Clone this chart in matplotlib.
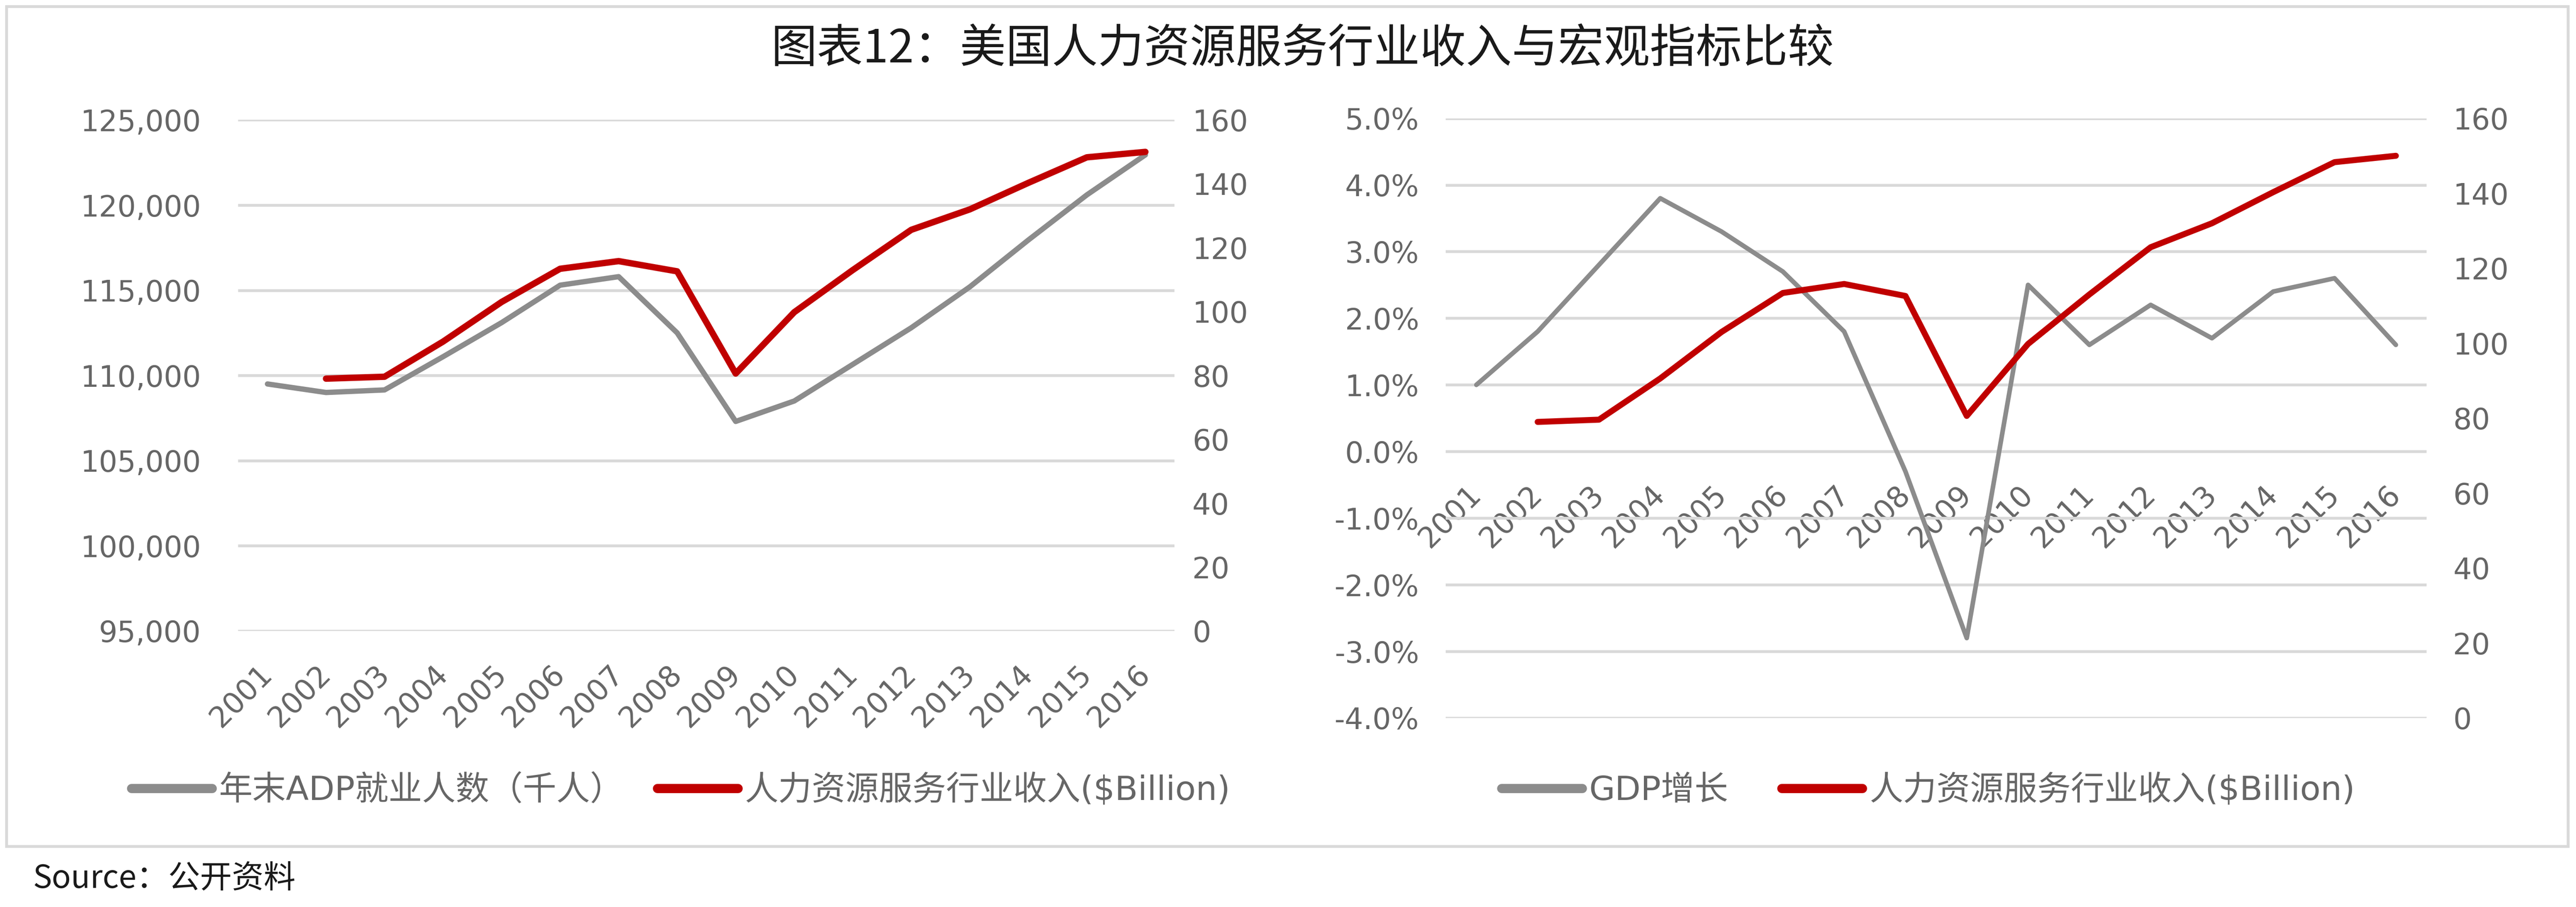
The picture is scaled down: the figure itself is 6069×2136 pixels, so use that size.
import matplotlib
matplotlib.use('Agg')
import matplotlib.pyplot as plt
from matplotlib.patches import Rectangle
from matplotlib.ticker import FuncFormatter, MultipleLocator
import numpy as np

plt.rcParams['font.family'] = ['DejaVu Sans', 'Noto Sans CJK SC']

# Données
annees = [str(a) for a in range(2001, 2017)]
emploi_adp = [109500, 109000, 109150, 111100, 113100, 115300, 115800, 112500,
              107300, 108500, 110650, 112800, 115200, 117950, 120600, 122950]
revenu_rh = [np.nan, 79.0, 79.6, 90.6, 103.0, 113.4, 115.8, 112.6,
             80.6, 99.8, 113.0, 125.6, 132.0, 140.3, 148.3, 150.0]
croissance_pib = [1.0, 1.8, 2.8, 3.8, 3.3, 2.7, 1.8, -0.3,
                  -2.8, 2.5, 1.6, 2.2, 1.7, 2.4, 2.6, 1.6]

titre = '图表12：美国人力资源服务行业收入与宏观指标比较'
label_emploi = '年末ADP就业人数（千人）'
label_revenu = '人力资源服务行业收入($Billion)'
label_pib = 'GDP增长'
source = 'Source：公开资料'

ROUGE = '#c00000'
GRIS = '#8c8c8c'
GRILLE = '#d9d9d9'
TEXTE = '#666666'

W, H = 1568.0, 552.0


def fx(px):
    return px / W


def fy(py):
    return 1 - py / H


def boite(x0, y0, x1, y1):
    return [fx(x0), fy(y1), (x1 - x0) / W, (y1 - y0) / H]


def style_axe(ax):
    for s in ax.spines.values():
        s.set_visible(False)
    ax.tick_params(length=0, labelsize=16.5, labelcolor=TEXTE)


fig = plt.figure(figsize=(6069 / 300, 2136 / 300), dpi=300)
x = np.arange(len(annees))

# Cadre
fig.patches.append(Rectangle((fx(4), fy(515)), fx(1563) - fx(4), fy(4) - fy(515),
                             transform=fig.transFigure, fill=False,
                             edgecolor=GRILLE, linewidth=1.6))

fig.text(fx(793), fy(30), titre, ha='center', va='center', fontsize=26,
         color='#1a1a1a', family=['Noto Sans CJK SC', 'DejaVu Sans'])
fig.text(fx(20), fy(535), source, ha='left', va='center', fontsize=18,
         color='#1a1a1a', family=['Noto Sans CJK SC', 'DejaVu Sans'])

# Graphique de gauche
ax1 = fig.add_axes(boite(145, 73, 715, 384))
style_axe(ax1)
l1, = ax1.plot(x, emploi_adp, color=GRIS, lw=3.0, solid_joinstyle='round', solid_capstyle='round')
ax1.set_ylim(95000, 125000)
ax1.yaxis.set_major_locator(MultipleLocator(5000))
ax1.yaxis.set_major_formatter(FuncFormatter(lambda v, p: f'{int(v):,}'))
ax1.tick_params(axis='y', pad=21)
ax1.grid(axis='y', color=GRILLE, lw=1.6)
ax1.set_axisbelow(True)
ax1.set_xlim(-0.5, len(annees) - 0.5)
ax1.set_xticks(x)
ax1.set_xticklabels(annees, rotation=45, ha='right', va='center', rotation_mode='anchor')
ax1.tick_params(axis='x', pad=22)

ax1b = ax1.twinx()
style_axe(ax1b)
l2, = ax1b.plot(x, revenu_rh, color=ROUGE, lw=3.6, solid_joinstyle='round', solid_capstyle='round')
ax1b.set_ylim(0, 160)
ax1b.yaxis.set_major_locator(MultipleLocator(20))
ax1b.tick_params(axis='y', pad=10)

leg1 = fig.legend([l1, l2], [label_emploi, label_revenu], loc='center left',
                  bbox_to_anchor=(fx(80), fy(481)), ncol=2, frameon=False,
                  borderaxespad=0, borderpad=0, handlelength=2.4, handletextpad=0.2,
                  columnspacing=1.0, fontsize=19, labelcolor=TEXTE)
for ligne in leg1.get_lines():
    ligne.set_linewidth(5.2)

# Graphique de droite
ax2 = fig.add_axes(boite(880, 72, 1477, 437))
style_axe(ax2)
l3, = ax2.plot(x, croissance_pib, color=GRIS, lw=2.6, solid_joinstyle='round', solid_capstyle='round')
ax2.set_ylim(-4, 5)
ax2.yaxis.set_major_locator(MultipleLocator(1))
ax2.yaxis.set_major_formatter(FuncFormatter(lambda v, p: f'{v:.1f}%'))
ax2.tick_params(axis='y', pad=15)
ax2.grid(axis='y', color=GRILLE, lw=1.6)
ax2.set_axisbelow(True)
ax2.spines['bottom'].set_position(('data', 0))
ax2.set_xlim(-0.5, len(annees) - 0.5)
ax2.set_xticks(x)
ax2.set_xticklabels(annees, rotation=45, ha='right', va='center', rotation_mode='anchor')
ax2.tick_params(axis='x', pad=22)

ax2b = ax2.twinx()
style_axe(ax2b)
l4, = ax2b.plot(x, revenu_rh, color=ROUGE, lw=3.4, solid_joinstyle='round', solid_capstyle='round')
ax2b.set_ylim(0, 160)
ax2b.yaxis.set_major_locator(MultipleLocator(20))
ax2b.tick_params(axis='y', pad=15)

leg2 = fig.legend([l3, l4], [label_pib, label_revenu], loc='center left',
                  bbox_to_anchor=(fx(914), fy(481)), ncol=2, frameon=False,
                  borderaxespad=0, borderpad=0, handlelength=2.4, handletextpad=0.2,
                  columnspacing=1.6, fontsize=19, labelcolor=TEXTE)
for ligne in leg2.get_lines():
    ligne.set_linewidth(5.2)

fig.savefig('out.png', dpi=300)
